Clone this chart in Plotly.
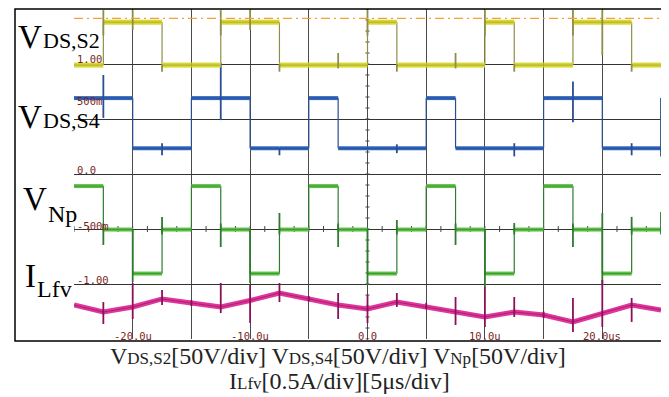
import plotly.graph_objects as go

# ---------------- data ----------------
# switching instants [us]
t_sw = [-25.0, -22.5, -20.0, -17.5, -15.0, -12.5, -10.0, -7.5, -5.0, -2.5, 0.0,
        2.5, 5.0, 7.5, 10.0, 12.5, 15.0, 17.5, 20.0, 22.5, 25.0]

# level of each trace on every 2.5 us interval (scope vertical units)
vds_s2 = [0.99, 1.38, 1.38, 0.99, 0.99, 1.38, 1.38, 0.99, 0.99, 0.99,
          1.38, 0.99, 0.99, 0.99, 1.38, 0.99, 0.99, 1.38, 1.38, 0.99]
vds_s4 = [0.69, 0.69, 0.234, 0.234, 0.69, 0.69, 0.234, 0.234, 0.69, 0.234,
          0.234, 0.234, 0.69, 0.234, 0.234, 0.234, 0.69, 0.69, 0.234, 0.234]
v_np = [-0.11, -0.505, -0.905, -0.505, -0.11, -0.505, -0.905, -0.505, -0.11, -0.505,
        -0.905, -0.505, -0.11, -0.505, -0.905, -0.505, -0.11, -0.505, -0.905, -0.505]
# inductor current samples at the switching instants
i_lfv = [-1.191, -1.255, -1.209, -1.136, -1.173, -1.209, -1.150, -1.082, -1.136, -1.191,
         -1.227, -1.164, -1.209, -1.255, -1.300, -1.255, -1.282, -1.345, -1.264, -1.191, -1.236]

# switching spikes: time, top, bottom
s2_spk_t = [-22.5, -20, -17.5, -12.5, -10, -7.5, -2.5, 0, 2.5, 7.5, 10, 12.5, 17.5, 20, 22.5]
s2_spk_hi = [1.49, 1.49, 1.00, 1.49, 1.49, 1.00, 1.10, 1.49, 1.00, 1.10, 1.49, 1.00, 1.49, 1.49, 1.00]
s2_spk_lo = [1.26, 1.31, 0.93, 1.26, 1.31, 0.93, 0.96, 1.26, 0.93, 0.96, 1.26, 0.93, 1.26, 1.08, 0.93]

s4_spk_t = [-22.5, -17.5, -12.5, -7.5, 2.5, 12.5, 17.5, 22.5, 25]
s4_spk_hi = [0.90, 0.28, 1.01, 0.24, 0.27, 0.28, 0.84, 0.28, 0.69]
s4_spk_lo = [0.51, 0.17, 0.49, 0.17, 0.19, 0.16, 0.47, 0.17, 0.16]

np_spk_t = [-22.5, -20, -17.5, -12.5, -10, -7.5, -2.5, 0, 2.5, 7.5, 10, 12.5, 17.5, 20, 22.5, 25]
np_spk_hi = [-0.45, -0.50, -0.39, -0.45, -0.50, -0.354, -0.45, -0.50, -0.418, -0.45, -0.50,
             -0.445, -0.45, -0.354, -0.39, -0.345]
np_spk_lo = [-0.645, -0.982, -0.55, -0.664, -0.99, -0.55, -0.664, -1.009, -0.55, -0.645,
             -1.027, -0.55, -0.664, -1.009, -0.55, -0.55]

il_spk_t = [-22.5, -20, -17.5, -15, -12.5, -10, -7.5, -5, -2.5, 0, 2.5, 5, 7.5, 10,
            12.5, 15, 17.5, 20, 22.5]
il_spk_hi = [-1.164, -0.991, -1.055, -1.145, -0.991, -1.009, -0.991, -1.11, -1.082, -1.10,
             -1.082, -1.17, -1.118, -1.027, -1.118, -1.25, -1.127, -0.964, -1.127]
il_spk_lo = [-1.364, -1.318, -1.191, -1.20, -1.264, -1.355, -1.164, -1.16, -1.318, -1.355,
             -1.209, -1.23, -1.373, -1.391, -1.30, -1.31, -1.436, -1.391, -1.345]

ref_level = 1.415  # orange dashed reference

y_tick_text = ["1.00", "500m", "0.0", "-500m", "-1.00"]
y_tick_pos = [1.041, 0.664, 0.036, -0.473, -0.964]
x_tick_text = ["-20.0u", "-10.0u", "0.0", "10.0u", "20.0us"]
x_tick_pos = [-20, -10, 0, 10, 20]

# ---------------- geometry ----------------
# the page body has an 8px margin, so the figure is drawn 8px smaller and
# every reference pixel position is shifted by that offset
OFF = 8
W, H = 669 - OFF, 397 - OFF
L_PX, R_PX, T_PX, B_PX = 74, 661, 9, 339   # plot area in page pixels


def px_x(px):
    return (px - L_PX) / (R_PX - L_PX)


def px_y(py):
    return (B_PX - py) / (B_PX - T_PX)


def level_xy(t, v):
    xs, ys = [], []
    for i, val in enumerate(v):
        xs += [t[i], t[i + 1], None]
        ys += [val, val, None]
    return xs, ys


def edge_xy(t, v):
    xs, ys = [], []
    for i in range(1, len(v)):
        if v[i] != v[i - 1]:
            xs += [t[i], t[i], None]
            ys += [v[i - 1], v[i], None]
    return xs, ys


def spike_xy(ts, hi, lo):
    xs, ys = [], []
    for a, b, c in zip(ts, hi, lo):
        xs += [a, a, None]
        ys += [c, b, None]
    return xs, ys


fig = go.Figure()

# minor ticks on the centre lines
tx, ty = [], []
k = 0
while -1.5 + 0.1 * k <= 1.5001:
    yy = -1.5 + 0.1 * k
    tx += [-0.17, 0.17, None]
    ty += [yy, yy, None]
    k += 1
k = 0
while -25 + 1.25 * k <= 25.001:
    xx = -25 + 1.25 * k
    tx += [xx, xx, None]
    ty += [-0.5 - 0.027, -0.5 + 0.027, None]
    k += 1
fig.add_trace(go.Scatter(x=tx, y=ty, mode="lines", line=dict(color="#444444", width=1),
                         hoverinfo="skip", showlegend=False))


def add_channel(t, levels, spk, band, core, edge, width=4):
    ex, ey = edge_xy(t, levels)
    fig.add_trace(go.Scatter(x=ex, y=ey, mode="lines", line=dict(color=edge, width=1.2),
                             hoverinfo="skip", showlegend=False))
    lx, ly = level_xy(t, levels)
    fig.add_trace(go.Scatter(x=lx, y=ly, mode="lines", line=dict(color=band, width=width),
                             hoverinfo="skip", showlegend=False))
    fig.add_trace(go.Scatter(x=lx, y=ly, mode="lines", line=dict(color=core, width=1),
                             opacity=0.45, hoverinfo="skip", showlegend=False))
    sx, sy = spike_xy(*spk)
    fig.add_trace(go.Scatter(x=sx, y=sy, mode="lines", line=dict(color=edge, width=1.8),
                             hoverinfo="skip", showlegend=False))


add_channel(t_sw, vds_s4, (s4_spk_t, s4_spk_hi, s4_spk_lo), "#3468bd", "#15306e", "#2a4e92")
add_channel(t_sw, vds_s2, (s2_spk_t, s2_spk_hi, s2_spk_lo), "#d8d834", "#7c7c20", "#8e8e4a", width=5)
add_channel(t_sw, v_np, (np_spk_t, np_spk_hi, np_spk_lo), "#5cbf46", "#1f6b1f", "#2f7a2f")

# inductor current
fig.add_trace(go.Scatter(x=t_sw, y=i_lfv, mode="lines", line=dict(color="#e0359a", width=5),
                         hoverinfo="skip", showlegend=False))
fig.add_trace(go.Scatter(x=t_sw, y=i_lfv, mode="lines", line=dict(color="#7a0c4a", width=1),
                         opacity=0.5, hoverinfo="skip", showlegend=False))
sx, sy = spike_xy(il_spk_t, il_spk_hi, il_spk_lo)
fig.add_trace(go.Scatter(x=sx, y=sy, mode="lines", line=dict(color="#8a1058", width=1.8),
                         hoverinfo="skip", showlegend=False))

# orange reference line
fig.add_trace(go.Scatter(x=[t_sw[0], t_sw[-1]], y=[ref_level, ref_level], mode="lines",
                         line=dict(color="#f5a033", width=1.2, dash="9px,4px,2px,4px"),
                         hoverinfo="skip", showlegend=False))

ann = []
# scale labels
for txt, yv in zip(y_tick_text, y_tick_pos):
    ann.append(dict(x=px_x(75), xref="paper", y=yv, yref="y", text=txt, showarrow=False,
                    xanchor="left", yanchor="middle",
                    font=dict(family="DejaVu Sans Mono", size=10.5, color="#7b1f1f")))
for txt, xv in zip(x_tick_text, x_tick_pos):
    ann.append(dict(x=xv, xref="x", y=px_y(336), yref="paper", text=txt, showarrow=False,
                    xanchor="center", yanchor="middle",
                    font=dict(family="DejaVu Sans Mono", size=10.5, color="#7b1f1f")))

serif = "Liberation Serif"


def big(txt, px, py, size):
    ann.append(dict(x=px_x(px), xref="paper", y=px_y(py), yref="paper", text=txt,
                    showarrow=False, xanchor="left", yanchor="middle",
                    font=dict(family=serif, size=size, color="black")))


big("V", 16, 37.5, 33)
big("DS,S2", 41, 40.5, 22)
big("V", 16, 117.5, 33)
big("DS,S4", 41, 120.5, 22)
big("V", 21, 199, 33)
big("Np", 46, 214, 24)
big("I", 23, 276, 33)
big("Lfv", 35, 289, 24)

sm = "<span style='font-size:17px'>"
line1 = ("V" + sm + "DS,S2</span>[50V/div] V" + sm + "DS,S4</span>[50V/div] V" + sm +
         "Np</span>[50V/div]")
line2 = "I" + sm + "Lfv</span>[0.5A/div][5\u03bcs/div]"
ann.append(dict(x=px_x(338), xref="paper", y=px_y(355.5), yref="paper", text=line1,
                showarrow=False, xanchor="center", yanchor="middle",
                font=dict(family=serif, size=24, color="#222222")))
ann.append(dict(x=px_x(339), xref="paper", y=px_y(381), yref="paper", text=line2,
                showarrow=False, xanchor="center", yanchor="middle",
                font=dict(family=serif, size=24, color="#222222")))

fig.update_layout(
    width=W, height=H,
    margin=dict(l=L_PX - OFF, r=(669 - R_PX), t=T_PX - OFF, b=397 - B_PX, pad=0),
    paper_bgcolor="white", plot_bgcolor="white",
    showlegend=False,
    annotations=ann,
    shapes=[dict(type="rect", xref="paper", yref="paper",
                 x0=px_x(15), x1=px_x(662), y0=px_y(341), y1=px_y(9),
                 line=dict(color="black", width=1.5), layer="above")],
    xaxis=dict(range=[-25, 25], tick0=-25, dtick=5, showgrid=True, gridcolor="#4a4a4a",
               gridwidth=1, zeroline=False, showticklabels=False, ticks="", showline=False,
               fixedrange=True),
    yaxis=dict(range=[-1.5, 1.5], tick0=-1.5, dtick=0.5, showgrid=True, gridcolor="#333333",
               gridwidth=1, zeroline=False, showticklabels=False, ticks="", showline=False,
               fixedrange=True),
)

fig.write_html("out.html")
